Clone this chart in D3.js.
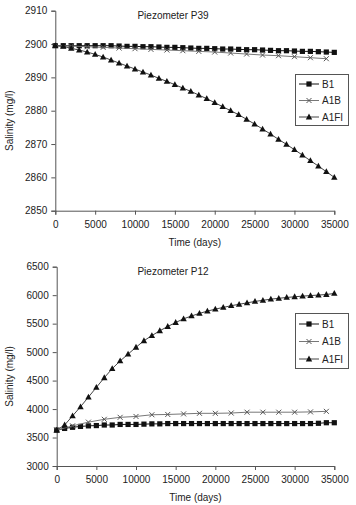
<!DOCTYPE html>
<html>
<head>
<meta charset="utf-8">
<script src="https://cdn.jsdelivr.net/npm/d3@7"></script>
<style>
  body { margin: 0; background: #fff; }
  svg { display: block; font-family: "Liberation Sans", Arial, sans-serif; }
</style>
</head>
<body>
<div id="chart"></div>
<script>
// time steps (days)
const days1000 = [0, 1000, 2000, 3000, 4000, 5000, 6000, 7000, 8000, 9000, 10000, 11000,
  12000, 13000, 14000, 15000, 16000, 17000, 18000, 19000, 20000, 21000, 22000, 23000,
  24000, 25000, 26000, 27000, 28000, 29000, 30000, 31000, 32000, 33000, 34000, 35000];
const days2000 = [0, 2000, 4000, 6000, 8000, 10000, 12000, 14000, 16000, 18000, 20000,
  22000, 24000, 26000, 28000, 30000, 32000, 34000];

const seriesNames = ['B1', 'A1B', 'A1FI'];
const xTicks = [0, 5000, 10000, 15000, 20000, 25000, 30000, 35000];

// Piezometer P39
const p39B1 = [2899.5, 2899.5, 2899.5, 2899.5, 2899.5, 2899.5, 2899.5, 2899.5, 2899.4, 2899.3,
  2899.3, 2899.2, 2899.2, 2899.1, 2899.0, 2899.0, 2898.9, 2898.8, 2898.7, 2898.7, 2898.6,
  2898.5, 2898.5, 2898.4, 2898.3, 2898.3, 2898.2, 2898.1, 2898.0, 2898.0, 2897.9, 2897.8,
  2897.8, 2897.7, 2897.6, 2897.5];
const p39A1B = [2899.5, 2899.4, 2899.2, 2899.0, 2898.8, 2898.6, 2898.4, 2898.2, 2898.0,
  2897.8, 2897.6, 2897.3, 2897.0, 2896.7, 2896.5, 2896.2, 2895.9, 2895.6];
const p39A1FI = [2899.5, 2899.3, 2898.7, 2898.2, 2897.6, 2896.9, 2896.1, 2895.2, 2894.3,
  2893.4, 2892.5, 2891.6, 2890.7, 2889.7, 2888.8, 2887.8, 2886.8, 2885.8, 2884.7, 2883.6,
  2882.4, 2881.2, 2880.0, 2878.8, 2877.4, 2876.0, 2874.5, 2873.0, 2871.4, 2869.9, 2868.3,
  2866.7, 2865.0, 2863.4, 2861.7, 2860.0];
const p39YTicks = [2850, 2860, 2870, 2880, 2890, 2900, 2910];

// Piezometer P12
const p12B1 = [3630, 3660, 3680, 3695, 3705, 3710, 3720, 3720, 3730, 3730, 3730, 3735, 3740,
  3740, 3745, 3745, 3745, 3745, 3745, 3745, 3745, 3745, 3745, 3745, 3745, 3745, 3745, 3745,
  3745, 3745, 3745, 3745, 3745, 3750, 3760, 3760];
const p12A1B = [3630, 3705, 3770, 3820, 3855, 3870, 3900, 3905, 3915, 3925, 3925, 3930,
  3945, 3945, 3945, 3945, 3950, 3960];
const p12A1FI = [3630, 3720, 3880, 4040, 4210, 4380, 4550, 4710, 4845, 4965, 5085, 5200,
  5290, 5375, 5450, 5520, 5585, 5635, 5680, 5720, 5755, 5785, 5815, 5840, 5865, 5890, 5910,
  5930, 5945, 5960, 5972, 5983, 5993, 6002, 6012, 6030];
const p12YTicks = [3000, 3500, 4000, 4500, 5000, 5500, 6000, 6500];

const width = 356;
const height = 505;

const svg = d3.select('#chart')
  .append('svg')
  .attr('width', width)
  .attr('height', height);

svg.append('rect').attr('width', width).attr('height', height).attr('fill', '#fff');

const lineColor = { B1: '#111', A1B: '#777', A1FI: '#444' };

function drawMarker(g, type, x, y) {
  if (type === 'B1') {
    g.append('rect')
      .attr('x', x - 2.6).attr('y', y - 2.6)
      .attr('width', 5.2).attr('height', 5.2)
      .attr('fill', '#111');
  } else if (type === 'A1B') {
    g.append('path')
      .attr('d', `M${x - 2.5},${y - 2.5}L${x + 2.5},${y + 2.5}M${x - 2.5},${y + 2.5}L${x + 2.5},${y - 2.5}`)
      .attr('stroke', '#555')
      .attr('stroke-width', 1);
  } else {
    g.append('path')
      .attr('d', `M${x},${y - 3.4}L${x + 3.2},${y + 2.4}L${x - 3.2},${y + 2.4}Z`)
      .attr('fill', '#111');
  }
}

function drawPanel(opts) {
  const g = svg.append('g');

  const x = d3.scaleLinear()
    .domain([0, 35000])
    .range([opts.left, opts.right]);

  const y = d3.scaleLinear()
    .domain(opts.yDomain)
    .range([opts.bottom, opts.top]);

  // axes
  const xAxis = g.append('g')
    .attr('transform', `translate(0, ${opts.bottom})`)
    .call(d3.axisBottom(x).tickValues(xTicks).tickSize(4).tickPadding(6).tickFormat(d3.format('d')));

  const yAxis = g.append('g')
    .attr('transform', `translate(${opts.left}, 0)`)
    .call(d3.axisLeft(y).tickValues(opts.yTicks).tickSize(4).tickPadding(4).tickFormat(d3.format('d')));

  [xAxis, yAxis].forEach(a => {
    a.select('.domain').attr('stroke', '#555');
    a.selectAll('.tick line').attr('stroke', '#555');
    a.selectAll('.tick text')
      .attr('fill', '#222')
      .style('font-size', '10px')
      .style('font-family', '"Liberation Sans", Arial, sans-serif');
  });

  // series
  opts.series.forEach(s => {
    const pts = s.x.map((d, i) => [x(d), y(s.values[i])]);
    g.append('path')
      .attr('d', d3.line()(pts))
      .attr('fill', 'none')
      .attr('stroke', lineColor[s.name])
      .attr('stroke-width', 1);
    pts.forEach(p => drawMarker(g, s.name, p[0], p[1]));
  });

  // title
  g.append('text')
    .attr('x', 173)
    .attr('y', opts.top + 8)
    .attr('text-anchor', 'middle')
    .style('font-size', '10px')
    .attr('fill', '#222')
    .text(opts.title);

  // axis labels
  g.append('text')
    .attr('x', (opts.left + opts.right) / 2)
    .attr('y', opts.bottom + 35)
    .attr('text-anchor', 'middle')
    .style('font-size', '10px')
    .attr('fill', '#222')
    .text('Time (days)');

  g.append('text')
    .attr('transform', 'rotate(-90)')
    .attr('x', -((opts.top + opts.bottom) / 2 + 10))
    .attr('y', 13)
    .attr('text-anchor', 'middle')
    .style('font-size', '10px')
    .attr('fill', '#222')
    .text('Salinity (mg/l)');

  // legend
  const lg = g.append('g');
  lg.append('rect')
    .attr('x', 295.5).attr('y', opts.legendTop + 0.5)
    .attr('width', 53).attr('height', opts.legendH)
    .attr('fill', '#fff')
    .attr('stroke', '#555')
    .attr('stroke-width', 1);
  seriesNames.forEach((name, i) => {
    const ry = opts.legendTop + opts.legendRow0 + i * opts.legendStep;
    lg.append('line')
      .attr('x1', 299).attr('x2', 319)
      .attr('y1', ry).attr('y2', ry)
      .attr('stroke', lineColor[name])
      .attr('stroke-width', 1);
    drawMarker(lg, name, 309, ry);
    lg.append('text')
      .attr('x', 322)
      .attr('y', ry + 3.5)
      .style('font-size', '10px')
      .attr('fill', '#222')
      .text(name);
  });
}

drawPanel({
  title: 'Piezometer P39',
  left: 55.3, right: 334.3, top: 10.7, bottom: 210.7,
  yDomain: [2850, 2910], yTicks: p39YTicks,
  legendTop: 74, legendH: 51, legendRow0: 10, legendStep: 16.5,
  series: [
    { name: 'B1', x: days1000, values: p39B1 },
    { name: 'A1B', x: days2000, values: p39A1B },
    { name: 'A1FI', x: days1000, values: p39A1FI }
  ]
});

drawPanel({
  title: 'Piezometer P12',
  left: 56.7, right: 334.3, top: 266.7, bottom: 466,
  yDomain: [3000, 6500], yTicks: p12YTicks,
  legendTop: 313, legendH: 55, legendRow0: 11, legendStep: 17.5,
  series: [
    { name: 'B1', x: days1000, values: p12B1 },
    { name: 'A1B', x: days2000, values: p12A1B },
    { name: 'A1FI', x: days1000, values: p12A1FI }
  ]
});
</script>
</body>
</html>
